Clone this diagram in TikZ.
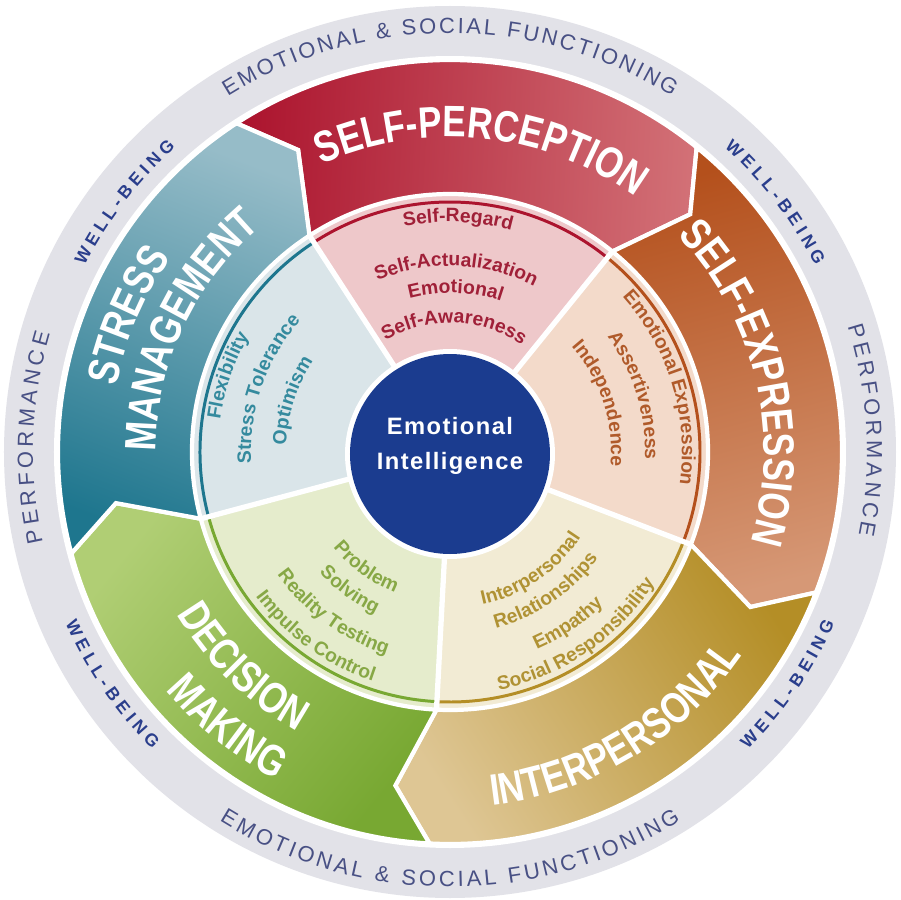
\documentclass[tikz,border=0pt]{standalone}
\usepackage{fontspec}
\setmainfont{Liberation Sans}
\newfontfamily\catfont[FakeStretch=0.8]{Liberation Sans}
\newfontfamily\eifont[LetterSpace=6]{Liberation Sans}
\usetikzlibrary{decorations.text}

\definecolor{ringgray}{RGB}{226,226,232}
\definecolor{ringblue}{RGB}{72,80,132}
\definecolor{wellblue}{RGB}{42,62,140}
\definecolor{eiblue}{RGB}{27,60,143}
\definecolor{spdark}{RGB}{172,20,46}
\definecolor{splight}{RGB}{210,112,118}
\definecolor{spwedge}{RGB}{238,200,202}
\definecolor{sptext}{RGB}{160,32,56}
\definecolor{sedark}{RGB}{180,80,28}
\definecolor{selight}{RGB}{214,152,118}
\definecolor{sewedge}{RGB}{243,218,202}
\definecolor{setext}{RGB}{176,90,42}
\definecolor{ipdark}{RGB}{180,142,38}
\definecolor{iplight}{RGB}{222,198,148}
\definecolor{ipwedge}{RGB}{242,235,212}
\definecolor{iptext}{RGB}{176,146,52}
\definecolor{dmdark}{RGB}{120,168,50}
\definecolor{dmlight}{RGB}{176,206,116}
\definecolor{dmwedge}{RGB}{229,236,204}
\definecolor{dmtext}{RGB}{135,168,70}
\definecolor{smdark}{RGB}{30,118,142}
\definecolor{smlight}{RGB}{150,188,200}
\definecolor{smwedge}{RGB}{218,229,233}
\definecolor{smtext}{RGB}{52,138,158}

\newcommand\catstyle{\catfont\bfseries\fontsize{25}{25}\selectfont\color{white}}
\newcommand\skillstyle{\bfseries\fontsize{11}{11}\selectfont}
\newcommand\ringstyle{\fontsize{12.5}{13}\selectfont\color{ringblue}}
\newcommand\wellstyle{\bfseries\fontsize{10}{10}\selectfont\color{wellblue}}

\begin{document}
\begin{tikzpicture}[x=0.02cm, y=0.02cm,
    band/.style={draw=white, line width=2.4pt},
    seam/.style={white, line width=3pt},
    curved/.style={decorate, decoration={text along path, text align=center, text={#1}}},
    spread/.style={decorate, decoration={text along path, text align={fit to path}, text={#1}}}]

    % frame
    \fill[white] (-450,-448) rectangle (450,452);
    \useasboundingbox (-450,-448) rectangle (450,452);

    % outer grey ring
    \fill[ringgray] (0,0) circle (446);
    \fill[white] (0,0) circle (396);

    % light inner wedges
    \foreach \bA/\bB/\wd in {123/51/spwedge, 51/-21/sewedge, -21/-93/ipwedge, -93/-165/dmwedge, -165/-237/smwedge}
        \fill[\wd] (0,0) -- (\bA:260) arc[start angle=\bA, end angle=\bB, radius=260] -- cycle;

    % arrow shaped bands (pointing clockwise)
    \foreach \bA/\bB/\dk/\lt in {123/51/spdark/splight, 51/-21/sedark/selight, -21/-93/ipdark/iplight, -93/-165/dmdark/dmlight, -165/-237/smdark/smlight} {
        \pgfmathsetmacro\sang{(\bA+\bB)/2-180}
        \shadedraw[band, bottom color=\dk, top color=\lt, shading angle=\sang]
            (\bA:392) arc[start angle=\bA, end angle=\bB, radius=392] -- (\bB-6.3:338)
            -- (\bB:258) arc[start angle=\bB, end angle=\bA, radius=258] -- (\bA-6.3:338) -- cycle;
        \draw[\dk, line width=1.7pt] (\bA:250) arc[start angle=\bA, end angle=\bB, radius=250];
    }

    % white seams between the wedges
    \foreach \b in {123,51,-21,-93,-165}
        \draw[seam] (0,0) -- (\b:259);

    % centre
    \fill[white] (0,-2) circle (105);
    \fill[eiblue] (0,-2) circle (100);
    \node[text=white, align=center, font=\eifont\bfseries\fontsize{13.5}{19.5}\selectfont] (ei) at (0,6) {Emotional\\Intelligence};

    % band titles
    \path[curved={|\catstyle|SELF-PERCEPTION}] (124:315) arc[start angle=124, end angle=44, radius=315];
    \path[curved={|\catstyle|SELF-EXPRESSION}] (53.5:314) arc[start angle=53.5, end angle=-26.5, radius=314];
    \path[curved={|\catstyle|INTERPERSONAL}] (-99:356) arc[start angle=-99, end angle=-19, radius=356];
    \path[curved={|\catstyle|DECISION}] (186:318) arc[start angle=186, end angle=266, radius=318];
    \path[curved={|\catstyle|MAKING}] (201:371) arc[start angle=201, end angle=261, radius=371];
    \path[curved={|\catstyle|STRESS}] (197:340) arc[start angle=197, end angle=117, radius=340];
    \path[curved={|\catstyle|MANAGEMENT}] (195:294) arc[start angle=195, end angle=115, radius=294];

    % Self-Perception
    \path[curved={|\skillstyle\color{sptext}|Self-Regard}] (158:230) arc[start angle=158, end angle=18, radius=230];
    \path[curved={|\skillstyle\color{sptext}|Self-Actualization}] (158:186) arc[start angle=158, end angle=18, radius=186];
    \path[curved={|\skillstyle\color{sptext}|Emotional}] (158:159) arc[start angle=158, end angle=18, radius=159];
    \path[curved={|\skillstyle\color{sptext}|Self-Awareness}] (158:129) arc[start angle=158, end angle=18, radius=129];

    % Self-Expression
    \path[curved={|\skillstyle\color{setext}|Emotional Expression}] (87:232) arc[start angle=87, end angle=-53, radius=232];
    \path[curved={|\skillstyle\color{setext}|Assertiveness}] (87:195) arc[start angle=87, end angle=-53, radius=195];
    \path[curved={|\skillstyle\color{setext}|Independence}] (88:161) arc[start angle=88, end angle=-52, radius=161];

    % Interpersonal
    \path[curved={|\skillstyle\color{iptext}|Interpersonal}] (-125.5:156) arc[start angle=-125.5, end angle=14.5, radius=156];
    \path[curved={|\skillstyle\color{iptext}|Relationships}] (-125.5:182) arc[start angle=-125.5, end angle=14.5, radius=182];
    \path[curved={|\skillstyle\color{iptext}|Empathy}] (-125.5:216) arc[start angle=-125.5, end angle=14.5, radius=216];
    \path[curved={|\skillstyle\color{iptext}|Social Responsibility}] (-125.5:243) arc[start angle=-125.5, end angle=14.5, radius=243];

    % Decision Making
    \path[curved={|\skillstyle\color{dmtext}|Problem}] (164:151) arc[start angle=164, end angle=304, radius=151];
    \path[curved={|\skillstyle\color{dmtext}|Solving}] (164:178) arc[start angle=164, end angle=304, radius=178];
    \path[curved={|\skillstyle\color{dmtext}|Reality Testing}] (164:212) arc[start angle=164, end angle=304, radius=212];
    \path[curved={|\skillstyle\color{dmtext}|Impulse Control}] (164:242) arc[start angle=164, end angle=304, radius=242];

    % Stress Management
    \path[curved={|\skillstyle\color{smtext}|Flexibility}] (231:232) arc[start angle=231, end angle=91, radius=232];
    \path[curved={|\skillstyle\color{smtext}|Stress Tolerance}] (231:199) arc[start angle=231, end angle=91, radius=199];
    \path[curved={|\skillstyle\color{smtext}|Optimism}] (232:164) arc[start angle=232, end angle=92, radius=164];

    % ring texts
    \path[spread={|\ringstyle|EMOTIONAL {\&} SOCIAL FUNCTIONING}] (122:419) arc[start angle=122, end angle=58, radius=419];
    \path[spread={|\ringstyle|EMOTIONAL {\&} SOCIAL FUNCTIONING}] (238:435) arc[start angle=238, end angle=302, radius=435];
    \path[spread={|\ringstyle|PERFORMANCE}] (192.5:417) arc[start angle=192.5, end angle=163.5, radius=417];
    \path[spread={|\ringstyle|PERFORMANCE}] (17.5:417) arc[start angle=17.5, end angle=-11.5, radius=417];
    \path[spread={|\wellstyle|WELL-BEING}] (153:410) arc[start angle=153, end angle=132, radius=410];
    \path[spread={|\wellstyle|WELL-BEING}] (48:410) arc[start angle=48, end angle=27, radius=410];
    \path[spread={|\wellstyle|WELL-BEING}] (204:421) arc[start angle=204, end angle=225, radius=421];
    \path[spread={|\wellstyle|WELL-BEING}] (315:421) arc[start angle=315, end angle=336, radius=421];
\end{tikzpicture}
\end{document}
